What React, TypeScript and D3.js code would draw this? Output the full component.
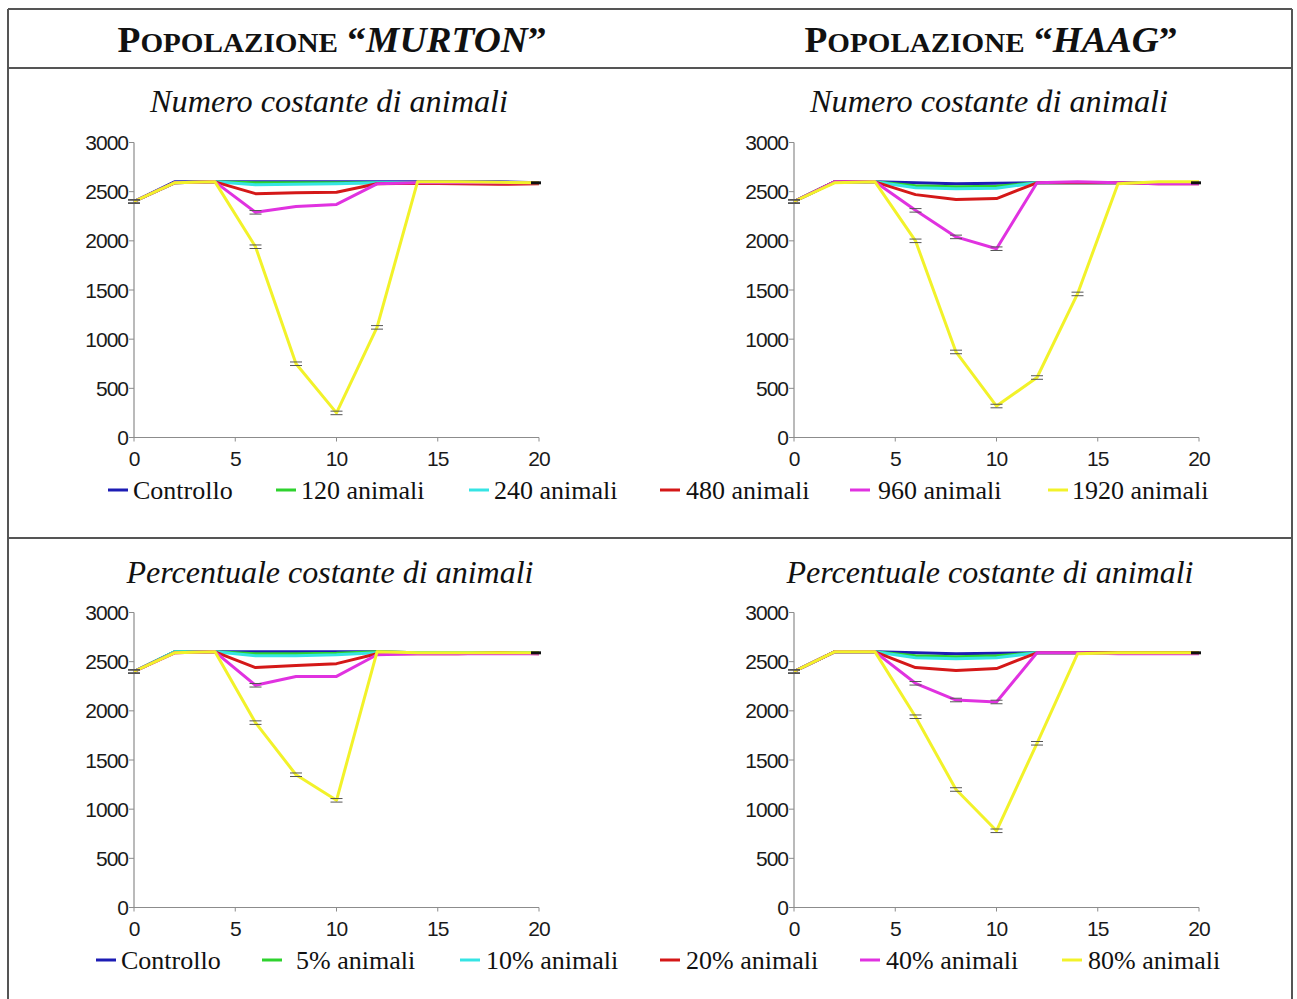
import React from "react";
import * as d3 from "d3";

// sampling times (x axis)
const times = [0, 2, 4, 6, 8, 10, 12, 14, 16, 18, 20];

const labelsNum = ["Controllo", "120 animali", "240 animali", "480 animali", "960 animali", "1920 animali"];
const labelsPct = ["Controllo", "5% animali", "10% animali", "20% animali", "40% animali", "80% animali"];
const colors = ["#1c1cb4", "#2ed22e", "#36e4e4", "#d41818", "#e032e0", "#f2f22a"];

const yTicks = [0, 500, 1000, 1500, 2000, 2500, 3000];
const xTicks = [0, 5, 10, 15, 20];

// Murton - numero costante
const murtonNumCtrl = [2400, 2600, 2600, 2600, 2600, 2600, 2600, 2600, 2600, 2600, 2590];
const murtonNum120 = [2400, 2590, 2600, 2590, 2590, 2590, 2590, 2590, 2590, 2590, 2590];
const murtonNum240 = [2400, 2590, 2600, 2570, 2575, 2580, 2590, 2590, 2590, 2590, 2590];
const murtonNum480 = [2400, 2590, 2600, 2480, 2490, 2495, 2580, 2585, 2580, 2575, 2580];
const murtonNum960 = [2400, 2590, 2600, 2290, 2350, 2370, 2580, 2590, 2590, 2590, 2590];
const murtonNum1920 = [2400, 2590, 2600, 1940, 750, 250, 1120, 2600, 2600, 2595, 2590];

// Haag - numero costante
const haagNumCtrl = [2400, 2600, 2600, 2590, 2580, 2585, 2590, 2590, 2590, 2590, 2590];
const haagNum120 = [2400, 2600, 2600, 2560, 2550, 2555, 2590, 2590, 2590, 2590, 2590];
const haagNum240 = [2400, 2600, 2600, 2540, 2530, 2535, 2590, 2590, 2590, 2590, 2590];
const haagNum480 = [2400, 2600, 2600, 2470, 2420, 2430, 2590, 2590, 2590, 2580, 2580];
const haagNum960 = [2400, 2600, 2600, 2310, 2040, 1920, 2590, 2600, 2590, 2580, 2580];
const haagNum1920 = [2400, 2590, 2600, 2000, 870, 320, 610, 1460, 2580, 2600, 2600];

// Murton - percentuale costante
const murtonPctCtrl = [2400, 2600, 2600, 2600, 2600, 2600, 2600, 2590, 2590, 2590, 2590];
const murtonPct5 = [2400, 2600, 2600, 2580, 2580, 2585, 2600, 2590, 2590, 2590, 2590];
const murtonPct10 = [2400, 2600, 2600, 2560, 2560, 2570, 2590, 2590, 2590, 2590, 2590];
const murtonPct20 = [2400, 2590, 2600, 2440, 2460, 2480, 2580, 2580, 2580, 2590, 2580];
const murtonPct40 = [2400, 2590, 2600, 2260, 2350, 2350, 2570, 2580, 2580, 2580, 2580];
const murtonPct80 = [2400, 2590, 2600, 1880, 1350, 1090, 2600, 2590, 2590, 2590, 2590];

// Haag - percentuale costante
const haagPctCtrl = [2400, 2600, 2600, 2590, 2580, 2585, 2590, 2590, 2590, 2590, 2590];
const haagPct5 = [2400, 2600, 2600, 2560, 2550, 2560, 2590, 2590, 2590, 2590, 2590];
const haagPct10 = [2400, 2600, 2600, 2540, 2530, 2540, 2590, 2590, 2590, 2590, 2590];
const haagPct20 = [2400, 2600, 2600, 2440, 2410, 2430, 2590, 2590, 2590, 2590, 2590];
const haagPct40 = [2400, 2600, 2600, 2280, 2110, 2090, 2590, 2590, 2580, 2580, 2580];
const haagPct80 = [2400, 2600, 2600, 1940, 1200, 780, 1670, 2580, 2590, 2590, 2590];

const ERR = 18; // half size of the small error bars

const serif = "'Liberation Serif', 'Times New Roman', serif";
const sans = "'Liberation Sans', Arial, sans-serif";

function Panel({ left, top, series }: { left: number; top: number; series: number[][] }) {
  const x = d3.scaleLinear().domain([0, 20]).range([left, left + 405]);
  const y = d3.scaleLinear().domain([0, 3000]).range([top + 295, top]);
  const line = d3.line<number>().x((d, i) => x(times[i])).y(d => y(d));
  const axisCol = "#8c8c8c";
  return (
    <g>
      <line x1={left} x2={left} y1={y(3000)} y2={y(0)} stroke={axisCol} strokeWidth={1.2} />
      <line x1={left} x2={x(20)} y1={y(0)} y2={y(0)} stroke={axisCol} strokeWidth={1.2} />
      {yTicks.map(t => (
        <g key={"y" + t}>
          <line x1={left - 5} x2={left} y1={y(t)} y2={y(t)} stroke={axisCol} />
          <text x={left - 6} y={y(t) + 7.5} textAnchor="end" fontFamily={sans} fontSize={21}
            letterSpacing={-1} fill="#1a1a1a">{t}</text>
        </g>
      ))}
      {xTicks.map(t => (
        <g key={"x" + t}>
          <line x1={x(t)} x2={x(t)} y1={y(0)} y2={y(0) + 4} stroke={axisCol} />
          <text x={x(t)} y={y(0) + 28} textAnchor="middle" fontFamily={sans} fontSize={21}
            letterSpacing={-1} fill="#1a1a1a">{t}</text>
        </g>
      ))}
      {series.map((s, k) => (
        <path key={"s" + k} d={line(s) || ""} fill="none" stroke={colors[k]} strokeWidth={3}
          strokeLinejoin="round" />
      ))}
      {series.map((s, k) =>
        s.map((v, i) =>
          v < 2350 || i === 0 ? (
            <g key={"e" + k + "-" + i} stroke="#555" strokeWidth={1}>
              <line x1={x(times[i]) - 6} x2={x(times[i]) + 6} y1={y(v + ERR)} y2={y(v + ERR)} />
              <line x1={x(times[i]) - 6} x2={x(times[i]) + 6} y1={y(v - ERR)} y2={y(v - ERR)} />
            </g>
          ) : null
        )
      )}
      <line x1={x(20) - 8} x2={x(20) + 2} y1={y(series[0][10])} y2={y(series[0][10])}
        stroke="#111" strokeWidth={3} />
    </g>
  );
}

function Legend({ y, labels, marks, texts }: { y: number; labels: string[]; marks: number[]; texts: number[] }) {
  return (
    <g>
      {labels.map((l, i) => (
        <g key={l}>
          <line x1={marks[i]} x2={marks[i] + 20} y1={y - 9} y2={y - 9} stroke={colors[i]} strokeWidth={3} />
          <text x={texts[i]} y={y} fontFamily={serif} fontSize={26} fill="#111">{l}</text>
        </g>
      ))}
    </g>
  );
}

function Title({ cx, name, width }: { cx: number; name: string; width: number }) {
  return (
    <text x={cx} y={52} textAnchor="middle" fontFamily={serif} fontWeight="bold" fill="#111" fontSize={36}
      textLength={width} lengthAdjust="spacingAndGlyphs">
      <tspan>P</tspan>
      <tspan fontSize={28}>OPOLAZIONE</tspan>
      <tspan> “</tspan>
      <tspan fontStyle="italic">{name}</tspan>
      <tspan>”</tspan>
    </text>
  );
}

export default function App() {
  const frame = "#555";
  return (
    <svg width={1297} height={999} style={{ position: "absolute", left: 0, top: 0, background: "#fff" }}>
      <rect x={0} y={0} width={1297} height={999} fill="#fff" />
      <line x1={8} x2={1292} y1={9} y2={9} stroke={frame} strokeWidth={2} />
      <line x1={8} x2={1292} y1={68} y2={68} stroke={frame} strokeWidth={2} />
      <line x1={8} x2={1292} y1={538} y2={538} stroke={frame} strokeWidth={2} />
      <line x1={8} x2={8} y1={9} y2={999} stroke={frame} strokeWidth={2} />
      <line x1={1292} x2={1292} y1={9} y2={999} stroke={frame} strokeWidth={2} />

      <Title cx={332} name="MURTON" width={429} />
      <Title cx={991} name="HAAG" width={373} />

      <text x={329} y={112} textAnchor="middle" fontFamily={serif} fontStyle="italic" fontSize={31}
        fill="#111" textLength={358} lengthAdjust="spacingAndGlyphs">Numero costante di animali</text>
      <text x={989} y={112} textAnchor="middle" fontFamily={serif} fontStyle="italic" fontSize={31}
        fill="#111" textLength={358} lengthAdjust="spacingAndGlyphs">Numero costante di animali</text>
      <text x={330} y={583} textAnchor="middle" fontFamily={serif} fontStyle="italic" fontSize={31}
        fill="#111" textLength={407} lengthAdjust="spacingAndGlyphs">Percentuale costante di animali</text>
      <text x={990} y={583} textAnchor="middle" fontFamily={serif} fontStyle="italic" fontSize={31}
        fill="#111" textLength={407} lengthAdjust="spacingAndGlyphs">Percentuale costante di animali</text>

      <Panel left={134} top={142.5}
        series={[murtonNumCtrl, murtonNum120, murtonNum240, murtonNum480, murtonNum960, murtonNum1920]} />
      <Panel left={794} top={142.5}
        series={[haagNumCtrl, haagNum120, haagNum240, haagNum480, haagNum960, haagNum1920]} />
      <Panel left={134} top={612.5}
        series={[murtonPctCtrl, murtonPct5, murtonPct10, murtonPct20, murtonPct40, murtonPct80]} />
      <Panel left={794} top={612.5}
        series={[haagPctCtrl, haagPct5, haagPct10, haagPct20, haagPct40, haagPct80]} />

      <Legend y={499} labels={labelsNum} marks={[108, 276, 469, 660, 850, 1048]}
        texts={[133, 301, 494, 686, 878, 1072]} />
      <Legend y={969} labels={labelsPct} marks={[96, 262, 460, 660, 860, 1062]}
        texts={[121, 296, 486, 686, 886, 1088]} />
    </svg>
  );
}
